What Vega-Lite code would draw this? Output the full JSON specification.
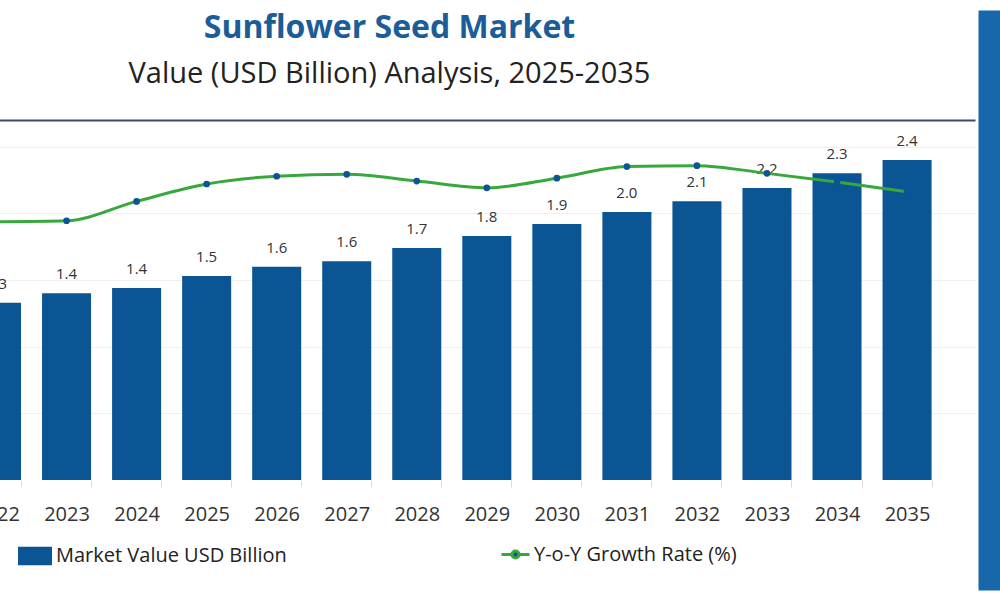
{
  "$schema": "https://vega.github.io/schema/vega-lite/v6.json",
  "autosize": {"type": "none"},
  "width": 1003,
  "height": 360,
  "padding": {"left": -28, "top": 120, "right": 25, "bottom": 120},
  "background": "white",
  "title": {
    "text": "Sunflower Seed Market",
    "subtitle": "Value (USD Billion) Analysis, 2025-2035",
    "anchor": "middle",
    "dx": -84,
    "offset": 30,
    "fontSize": 32,
    "fontWeight": "bold",
    "color": "#1b5d98",
    "subtitleFontSize": 29,
    "subtitleColor": "#222222",
    "subtitlePadding": 15
  },
  "data": {
    "values": [
      {"year": 2022, "value": 1.33, "growth": 3.81},
      {"year": 2023, "value": 1.40, "growth": 3.82},
      {"year": 2024, "value": 1.44, "growth": 4.02},
      {"year": 2025, "value": 1.53, "growth": 4.20},
      {"year": 2026, "value": 1.60, "growth": 4.28},
      {"year": 2027, "value": 1.64, "growth": 4.30},
      {"year": 2028, "value": 1.74, "growth": 4.23},
      {"year": 2029, "value": 1.83, "growth": 4.16},
      {"year": 2030, "value": 1.92, "growth": 4.26},
      {"year": 2031, "value": 2.01, "growth": 4.38},
      {"year": 2032, "value": 2.09, "growth": 4.39},
      {"year": 2033, "value": 2.19, "growth": 4.31},
      {"year": 2034, "value": 2.30, "growth": 4.22},
      {"year": 2035, "value": 2.40, "growth": 4.12}
    ]
  },
  "layer": [
    {
      "encoding": {
        "x": {
          "field": "year",
          "type": "ordinal",
          "scale": {"paddingInner": 0.3, "paddingOuter": 0.31, "align": 0},
          "axis": {
            "title": null,
            "labelAngle": 0,
            "labelFontSize": 20,
            "labelColor": "#333333",
            "labelPadding": 17,
            "domain": false,
            "ticks": true,
            "tickBand": "extent",
            "tickColor": "#ead6d6",
            "tickSize": 7
          }
        },
        "y": {
          "field": "value",
          "type": "quantitative",
          "scale": {"domain": [0, 2.7]},
          "axis": {
            "title": null,
            "labels": false,
            "ticks": false,
            "domain": false,
            "grid": true,
            "gridColor": "#efefef",
            "values": [0.5, 1, 1.5, 2, 2.5]
          }
        }
      },
      "layer": [
        {
          "mark": {"type": "bar"},
          "encoding": {
            "color": {
              "datum": "Market Value USD Billion",
              "type": "nominal",
              "scale": {"range": ["#0b5595"]},
              "legend": {
                "title": null,
                "orient": "none",
                "legendX": 46,
                "legendY": 419,
                "symbolType": "M-1,-0.55H1V0.55H-1Z",
                "symbolSize": 1156,
                "symbolStrokeWidth": 0,
                "labelFontSize": 20,
                "labelColor": "#222222",
                "labelOffset": 4,
                "labelLimit": 0
              }
            }
          }
        },
        {
          "mark": {"type": "text", "baseline": "bottom", "dy": -11, "fontSize": 15, "color": "#333333"},
          "encoding": {
            "text": {"field": "value", "type": "quantitative", "format": ".1f"}
          }
        }
      ]
    },
    {
      "encoding": {
        "x": {
          "field": "year",
          "type": "ordinal",
          "axis": {
            "orient": "top",
            "title": null,
            "labels": false,
            "ticks": false,
            "grid": false,
            "domain": true,
            "domainColor": "#34506a",
            "domainWidth": 2
          }
        },
        "y": {
          "field": "growth",
          "type": "quantitative",
          "scale": {"domain": [0, 6], "range": [470, -110], "zero": true},
          "axis": {
            "orient": "right",
            "title": null,
            "labels": false,
            "ticks": false,
            "grid": false,
            "domain": true,
            "domainColor": "#1767ab",
            "domainWidth": 22,
            "offset": 14
          }
        }
      },
      "layer": [
        {
          "mark": {"type": "line", "interpolate": "monotone", "strokeWidth": 3},
          "encoding": {
            "stroke": {
              "datum": "Y-o-Y Growth Rate (%)",
              "type": "nominal",
              "scale": {"range": ["#38a83c"]},
              "legend": {
                "title": null,
                "orient": "none",
                "legendX": 528,
                "legendY": 419,
                "symbolType": "M-1,0H-0.25M0.25,0H1M-0.25,0A0.25,0.25 0 1,1 0.25,0A0.25,0.25 0 1,1 -0.25,0Z",
                "symbolSize": 784,
                "symbolStrokeWidth": 3,
                "symbolFillColor": "#0b5595",
                "labelFontSize": 20,
                "labelColor": "#222222",
                "labelOffset": 3,
                "labelLimit": 0
              }
            }
          }
        },
        {
          "mark": {"type": "point", "filled": true, "size": 45, "opacity": 1, "color": "#0b5595"}
        }
      ]
    }
  ],
  "resolve": {
    "scale": {"y": "independent"},
    "axis": {"x": "independent"}
  },
  "config": {
    "font": "Open Sans",
    "view": {"stroke": null}
  }
}
